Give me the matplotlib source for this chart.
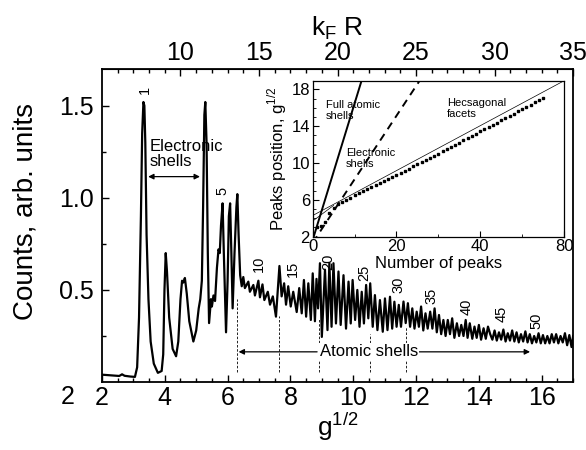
import matplotlib
matplotlib.use('Agg')
import matplotlib.pyplot as plt
from matplotlib.ticker import MultipleLocator, FixedLocator

plt.rcParams['font.family'] = ['Liberation Sans', 'DejaVu Sans']
plt.rcParams['mathtext.fontset'] = 'custom'
plt.rcParams['mathtext.rm'] = 'Liberation Sans'

# --- spectrum: (g^1/2, counts) vertices ---
spec_g = [
    2.00, 2.30, 2.55, 2.64, 2.72, 2.90, 3.05, 3.12, 3.18, 3.24, 3.28, 3.32, 3.35, 3.38, 3.42,
    3.48, 3.55, 3.65, 3.78, 3.90, 3.95, 3.99, 4.03, 4.07, 4.14, 4.25, 4.36, 4.43, 4.50, 4.55,
    4.59, 4.64, 4.70, 4.78, 4.91, 5.00, 5.08, 5.13, 5.18, 5.22, 5.26, 5.29, 5.33, 5.37, 5.41,
    5.47, 5.50, 5.55, 5.60, 5.66, 5.71, 5.75, 5.79, 5.84, 5.88, 5.95, 6.00, 6.04, 6.08, 6.12,
    6.16, 6.22, 6.28, 6.31, 6.35, 6.40, 6.45,
    6.50, 6.55, 6.66, 6.71, 6.82, 6.87, 6.98, 7.03, 7.11, 7.17, 7.28, 7.35, 7.44, 7.54, 7.65,
    7.72, 7.80, 7.86, 7.93, 8.01, 8.09, 8.20, 8.28,
    8.36, 8.43, 8.50, 8.57, 8.65, 8.71, 8.78, 8.83, 8.88, 8.94, 9.00, 9.10, 9.18, 9.24, 9.31,
    9.37, 9.45, 9.53, 9.60, 9.69, 9.77, 9.85, 9.92, 9.98, 10.06, 10.13, 10.20, 10.27, 10.34,
    10.41, 10.48, 10.54, 10.62, 10.69, 10.77, 10.85, 10.94, 11.01, 11.09, 11.17, 11.24, 11.31,
    11.38, 11.45, 11.52, 11.60, 11.67, 11.74, 11.81, 11.88, 11.95, 12.02, 12.09, 12.16, 12.23,
    12.30, 12.37, 12.45, 12.52, 12.59, 12.66, 12.73, 12.80, 12.87, 12.94, 13.01, 13.08, 13.15,
    13.22, 13.30, 13.37, 13.44, 13.51, 13.58, 13.64, 13.71, 13.79, 13.86, 13.93, 14.00, 14.07,
    14.15, 14.22, 14.29, 14.36,
    14.43, 14.50, 14.57, 14.64, 14.71, 14.78, 14.85, 14.92, 14.99, 15.06, 15.13, 15.20, 15.27,
    15.34, 15.41, 15.48, 15.55, 15.62, 15.69, 15.76, 15.83, 15.90, 15.97, 16.04, 16.11, 16.18,
    16.25, 16.32, 16.39, 16.46, 16.53, 16.60, 16.67, 16.74, 16.81, 16.88, 16.95, 17.00,
]
spec_c = [
    0.040, 0.036, 0.033, 0.042, 0.034, 0.030, 0.028, 0.08, 0.35, 0.90, 1.35, 1.52, 1.50, 1.30, 0.80,
    0.45, 0.22, 0.10, 0.05, 0.06, 0.15, 0.50, 0.70, 0.60, 0.35, 0.18, 0.14, 0.22, 0.45, 0.55,
    0.54, 0.565, 0.48, 0.33, 0.22, 0.28, 0.40, 0.45, 0.55, 0.95, 1.45, 1.52, 1.30, 0.70, 0.32,
    0.45, 0.41, 0.47, 0.44, 0.62, 0.72, 0.70, 0.85, 0.97, 0.70, 0.27, 0.55, 0.90, 0.97, 0.70,
    0.40, 0.70, 0.95, 1.02, 0.80, 0.58, 0.52,
    0.57, 0.51, 0.545, 0.49, 0.527, 0.47, 0.55, 0.46, 0.53, 0.445, 0.49, 0.42, 0.465, 0.355, 0.63,
    0.465, 0.536, 0.42, 0.52, 0.41, 0.49, 0.38, 0.51,
    0.373, 0.554, 0.355, 0.536, 0.337, 0.59, 0.33, 0.56, 0.40, 0.645, 0.245, 0.61, 0.282, 0.645, 0.30,
    0.645, 0.318, 0.60, 0.31, 0.58, 0.29, 0.545, 0.318, 0.554, 0.337, 0.50, 0.30, 0.49, 0.318,
    0.527, 0.346, 0.536, 0.30, 0.472, 0.282, 0.445, 0.273, 0.454, 0.282, 0.463, 0.29, 0.436,
    0.30, 0.419, 0.30, 0.437, 0.32, 0.428, 0.30, 0.40, 0.29, 0.382, 0.30, 0.41, 0.28,
    0.373, 0.29, 0.382, 0.29, 0.40, 0.27, 0.364, 0.26, 0.337, 0.25, 0.337, 0.26, 0.346,
    0.24, 0.319, 0.25, 0.31, 0.25, 0.337, 0.24, 0.319, 0.235, 0.301, 0.24, 0.31, 0.23,
    0.292, 0.235, 0.301, 0.26,
    0.23, 0.28, 0.225, 0.27, 0.23, 0.285, 0.22, 0.265, 0.225, 0.28, 0.22, 0.27, 0.215,
    0.26, 0.22, 0.275, 0.215, 0.26, 0.21, 0.25, 0.215, 0.265, 0.21, 0.255, 0.21, 0.25,
    0.21, 0.26, 0.215, 0.26, 0.21, 0.25, 0.215, 0.265, 0.20, 0.255, 0.19, 0.25,
]

# numbered peaks: label, g^1/2, height of label centre
peak_labels = ['1', '5', '10', '15', '20', '25', '30', '35', '40', '45', '50']
peak_label_g = [3.36, 5.85, 7.00, 8.07, 9.20, 10.35, 11.44, 12.50, 13.61, 14.73, 15.84]
peak_label_c = [1.585, 1.04, 0.64, 0.614, 0.654, 0.595, 0.527, 0.466, 0.41, 0.37, 0.33]

# dashed markers of full atomic shells
shell_g = [6.31, 7.64, 8.91, 10.53, 11.67]
shell_top = [0.45, 0.36, 0.34, 0.26, 0.30]

# inset: peak position vs peak number
peak_n = list(range(1, 56))
peak_pos = [
    3.00, 3.15, 3.65, 4.60, 5.15, 5.50, 5.80,
    6.03, 6.25, 6.48, 6.70, 6.93, 7.15, 7.38, 7.60, 7.83, 8.05, 8.28, 8.50, 8.73, 8.95, 9.18,
    9.40, 9.63, 9.85, 10.08, 10.30, 10.53,
    10.77, 11.01, 11.26, 11.50, 11.74, 11.98, 12.22, 12.47, 12.71, 12.95, 13.19, 13.43, 13.68,
    13.92, 14.16, 14.40, 14.64, 14.89, 15.13, 15.37, 15.61, 15.85, 16.10, 16.34, 16.58, 16.82,
    17.06,
]
full_atomic_n = [0, 11.7]
full_atomic_y = [1.64, 19.0]
electronic_n = [0, 25.6]
electronic_y = [1.34, 19.0]
hex_n = [0, 60]
hex_y = [4.30, 18.94]
early_n = [0, 5]
early_y = [3.70, 5.40]

fig = plt.figure(figsize=(5.86, 4.5), dpi=100)
ax = fig.add_axes([0.174, 0.151, 0.804, 0.696])

ax.plot(spec_g, spec_c, color='black', linewidth=1.6, solid_joinstyle='round')
ax.set_xlim(2, 17)
ax.set_ylim(0, 1.70)

for sg, st in zip(shell_g, shell_top):
    ax.plot([sg, sg], [0.055, st], color='black', linestyle=(0, (3, 2)), linewidth=0.6)

for lab, lg, lc in zip(peak_labels, peak_label_g, peak_label_c):
    ax.text(lg, lc, lab, rotation=90, ha='center', va='center', fontsize=10.5)

# electronic shells
ax.annotate('', xy=(3.47, 1.115), xytext=(5.12, 1.115),
            arrowprops=dict(arrowstyle='<|-|>', color='black', lw=0.9,
                            mutation_scale=8, shrinkA=0, shrinkB=0))
ax.text(3.52, 1.32, 'Electronic\nshells', ha='left', va='top', fontsize=12, linespacing=1.05)

# atomic shells
ax.annotate('', xy=(6.35, 0.164), xytext=(8.85, 0.164),
            arrowprops=dict(arrowstyle='-|>', color='black', lw=0.9,
                            mutation_scale=8, shrinkA=0, shrinkB=0))
ax.annotate('', xy=(15.63, 0.164), xytext=(12.1, 0.164),
            arrowprops=dict(arrowstyle='-|>', color='black', lw=0.9,
                            mutation_scale=8, shrinkA=0, shrinkB=0))
ax.text(10.5, 0.164, 'Atomic shells', ha='center', va='center', fontsize=12,
        bbox=dict(facecolor='white', edgecolor='none', pad=1))

ax.set_xticks([2, 4, 6, 8, 10, 12, 14, 16])
ax.xaxis.set_minor_locator(MultipleLocator(0.5))
ax.set_yticks([0.5, 1.0, 1.5])
ax.set_yticklabels(['0.5', '1.0', '1.5'])
ax.yaxis.set_minor_locator(FixedLocator([0.25, 0.75, 1.25]))
ax.tick_params(which='both', direction='in', labelsize=18, top=False, right=False)
ax.tick_params(which='major', length=5, width=1)
ax.tick_params(which='minor', length=3, width=1)
ax.tick_params(axis='x', pad=3)
ax.tick_params(axis='y', pad=6)
for sp in ax.spines.values():
    sp.set_linewidth(1.3)

ax.set_ylabel('Counts, arb. units', fontsize=20)
ax.yaxis.set_label_coords(-0.135, 0.545)
ax.set_xlabel(r'g$^{\mathregular{1/2}}$', fontsize=19, labelpad=0)
fig.text(0.116, 0.118, '2', fontsize=18, ha='center', va='center')

top = ax.secondary_xaxis('top', functions=(lambda g: 2 * g + 1, lambda k: (k - 1) / 2))
top.set_xticks([10, 15, 20, 25, 30, 35])
top.xaxis.set_minor_locator(FixedLocator([v for v in range(6, 35) if v % 5]))
top.tick_params(which='both', direction='in', labelsize=18, pad=3)
top.tick_params(which='major', length=5, width=1)
top.tick_params(which='minor', length=3, width=1)
top.set_xlabel(r'k$_{\mathregular{F}}$ R', fontsize=19, labelpad=4)

# inset
ins = fig.add_axes([0.5336, 0.474, 0.4289, 0.3467])
ins.plot(full_atomic_n, full_atomic_y, color='black', linewidth=1.4)
ins.plot(electronic_n, electronic_y, color='black', linewidth=1.4, linestyle=(0, (4, 3)))
ins.plot(hex_n, hex_y, color='black', linewidth=0.5)
ins.plot(early_n, early_y, color='black', linewidth=0.5)
ins.plot(peak_n, peak_pos, linestyle='none', marker='s', markersize=1.8, color='black')
ins.set_xlim(0, 60)
ins.set_ylim(2, 18.95)
ins.set_xticks([0, 20, 40, 60])
ins.set_xticklabels(['0', '20', '40', '80'])
ins.xaxis.set_minor_locator(FixedLocator([10, 30, 50]))
ins.set_yticks([2, 6, 10, 14, 18])
ins.yaxis.set_minor_locator(MultipleLocator(1))
ins.tick_params(which='both', direction='in', labelsize=12, pad=2)
ins.tick_params(which='major', length=4.5, width=0.8)
ins.tick_params(which='minor', length=2.5, width=0.6)
for sp in ins.spines.values():
    sp.set_linewidth(0.9)
ins.set_xlabel('Number of peaks', fontsize=12, labelpad=1)
ins.set_ylabel(r'Peaks position, g$^{\mathregular{1/2}}$', fontsize=12, labelpad=2)
ins.text(3.2, 16.8, 'Full atomic\nshells', fontsize=8, ha='left', va='top', linespacing=1.1)
ins.text(8.0, 11.6, 'Electronic\nshells', fontsize=8, ha='left', va='top', linespacing=1.1)
ins.text(32, 17.1, 'Hecsagonal\nfacets', fontsize=8, ha='left', va='top', linespacing=1.1)

fig.savefig('out.png', dpi=100)
